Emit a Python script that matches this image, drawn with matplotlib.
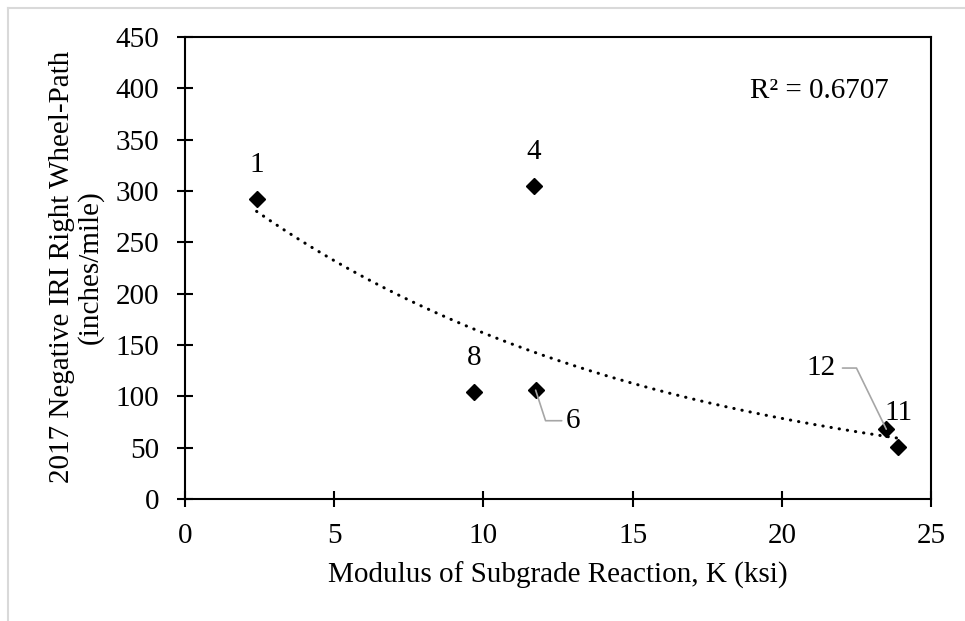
import numpy as np
import matplotlib
matplotlib.use("Agg")
import matplotlib.pyplot as plt
from matplotlib.lines import Line2D

plt.rcParams['font.family'] = ['Liberation Serif', 'DejaVu Serif']

# Data
k_ksi = [2.4, 11.7, 9.7, 11.75, 23.5, 23.9]
iri = [292, 305, 104, 106, 68, 51]
site_labels = ['1', '4', '8', '6', '12', '11']
r2_text = "R² = 0.6707"

# exponential trendline (Excel style: fit on ln y)
b, ln_a = np.polyfit(k_ksi, np.log(iri), 1)
xs = np.linspace(min(k_ksi), max(k_ksi), 200)
ys = np.exp(ln_a) * np.exp(b * xs)

fs = 21

fig = plt.figure(figsize=(9.65, 6.21), dpi=100)
ax = fig.add_axes([0.1917, 0.1965, 0.7731, 0.7439])

ax.plot(xs, ys, color='black', linewidth=2.2, linestyle=(0, (0.1, 2.6)),
        dash_capstyle='round', zorder=2)
ax.plot(k_ksi, iri, linestyle='none', marker='D', markersize=8,
        color='black', zorder=3)

ax.set_xlim(0, 25)
ax.set_ylim(0, 450)
ax.set_xticks(np.arange(0, 26, 5))
ax.set_yticks(np.arange(0, 451, 50))
for s in ax.spines.values():
    s.set_linewidth(1.5)
ax.tick_params(direction='inout', length=11, width=1.5, labelsize=fs)
ax.tick_params(axis='y', pad=13)
ax.tick_params(axis='x', pad=12)

ax.set_xlabel("Modulus of Subgrade Reaction, K (ksi)", fontsize=fs, labelpad=9)
fig.text(0.079, 0.57, "2017 Negative IRI Right Wheel-Path\n(inches/mile)",
         rotation=90, ha='center', va='center', fontsize=fs,
         multialignment='center', linespacing=1.1)

# point labels
grey = '#A6A6A6'
for i, lab in enumerate(site_labels):
    x, y = k_ksi[i], iri[i]
    if lab == '6':
        ax.annotate(lab, (x, y), xytext=(27, -22), textcoords='offset points',
                    ha='center', va='center', fontsize=fs,
                    arrowprops=dict(arrowstyle='-', color=grey, lw=1.2,
                                    shrinkA=1, shrinkB=0, relpos=(0, 0.5),
                                    connectionstyle='angle,angleA=0,angleB=108,rad=0'))
    elif lab == '12':
        ax.annotate(lab, (x, y), xytext=(-47, 44), textcoords='offset points',
                    ha='center', va='center', fontsize=fs,
                    arrowprops=dict(arrowstyle='-', color=grey, lw=1.2,
                                    shrinkA=3, shrinkB=0, relpos=(1, 0.5),
                                    connectionstyle='angle,angleA=0,angleB=116,rad=0'))
    else:
        ax.annotate(lab, (x, y), xytext=(0, 24.5), textcoords='offset points',
                    ha='center', va='center', fontsize=fs)

ax.text(0.851, 0.884, r2_text, transform=ax.transAxes, ha='center',
        va='center', fontsize=fs)

# light chart-area border (top and left visible)
bc = '#D9D9D9'
fig.add_artist(Line2D([8 / 965, 8 / 965], [0, 1 - 8 / 621], color=bc, lw=1.5))
fig.add_artist(Line2D([8 / 965, 1], [1 - 8 / 621, 1 - 8 / 621], color=bc, lw=1.5))

fig.savefig("out.png", dpi=100)
